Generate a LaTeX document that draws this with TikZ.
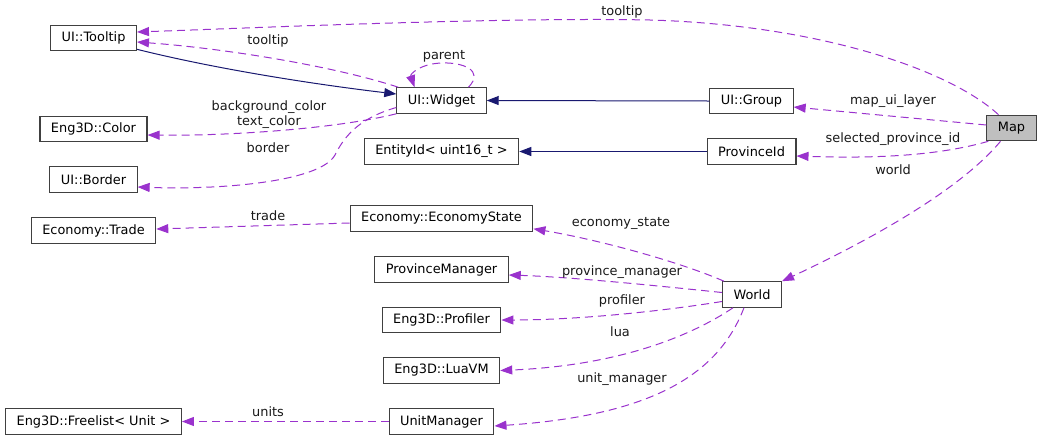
\documentclass[tikz,border=0pt]{standalone}
\usepackage{fontspec}
\setmainfont{DejaVu Sans}
\usepackage{tikz}
\usetikzlibrary{positioning,arrows.meta,calc}
\definecolor{edgeBox}{HTML}{404040}
\definecolor{usage}{HTML}{9A32CD}
\definecolor{derive}{HTML}{191970}
\definecolor{current}{HTML}{BFBFBF}
\tikzset{
  cls/.style={rectangle, draw=edgeBox, line width=1.1pt, fill=white, inner xsep=11pt,
              inner ysep=2pt, minimum height=25.5pt, font=\fontsize{12.9}{15}\selectfont},
  curcls/.style={cls, fill=current},
  lbl/.style={font=\fontsize{12.9}{15}\selectfont, align=center, inner sep=0pt, text=black!90},
  dep/.style={-{Triangle[length=12pt,width=9pt]}, line width=1pt, draw=usage,
              dash pattern=on 8pt off 5pt},
  inh/.style={-{Triangle[length=12pt,width=9pt]}, line width=1pt, draw=derive}
}
\begin{document}
\begin{tikzpicture}[x=1pt, y=-1pt]
\useasboundingbox (0,0) rectangle (1043,440);
% classes
\node[cls] (tooltip) at (93.5,38) {UI::Tooltip};
\node[cls] (color) at (93.5,129) {Eng3D::Color};
\node[cls] (border) at (93.5,179.5) {UI::Border};
\node[cls] (trade) at (93.5,230.5) {Economy::Trade};
\node[cls] (freelist) at (93.5,421.5) {Eng3D::Freelist< Unit >};
\node[cls] (widget) at (441.5,100.5) {UI::Widget};
\node[cls] (entityid) at (441.5,151.5) {EntityId< uint16\_t >};
\node[cls] (econstate) at (441.5,218.5) {Economy::EconomyState};
\node[cls] (provmgr) at (441.5,269.5) {ProvinceManager};
\node[cls] (profiler) at (441.5,320) {Eng3D::Profiler};
\node[cls] (luavm) at (441.5,370.5) {Eng3D::LuaVM};
\node[cls] (unitmgr) at (441.5,421.5) {UnitManager};
\node[cls] (group) at (751.5,101) {UI::Group};
\node[cls] (provid) at (751.5,151.5) {ProvinceId};
\node[cls] (world) at (752,294.5) {World};
\node[curcls] (map) at (1011.5,128) {Map};

% inheritance
\draw[inh] ([yshift=2pt]tooltip.south east) .. controls (220,70) and (320,85) .. ([yshift=6.5pt]widget.west);
\draw[inh] (group.west) -- (widget.east);
\draw[inh] (provid.west) -- (entityid.east);

% usage
\draw[dep] ([xshift=-13pt]map.north) .. controls (950,70) and (820,25) .. (650,20)
  .. controls (500,17) and (250,28) .. ([yshift=6pt]tooltip.east);
\draw[dep] ([xshift=2pt]widget.north west) .. controls (330,65) and (220,48) .. ([yshift=-4pt]tooltip.east);
\draw[dep] ([xshift=27pt]widget.north) .. controls (485,70) and (462,62) .. (441,63)
  .. controls (420,64) and (410,74) .. ([xshift=-27pt]widget.north);
\draw[dep] (widget.south west) .. controls (330,130) and (220,136) .. ([yshift=-6pt]color.east);
\draw[dep] ([yshift=-7pt]widget.west) .. controls (360,118) and (345,135) .. (335,155)
  .. controls (320,182) and (220,190) .. ([yshift=-7.5pt]border.east);
\draw[dep] ([yshift=3pt]map.west) -- ([yshift=-6pt]group.east);
\draw[dep] ([xshift=2pt]map.south west) .. controls (930,158) and (860,158) .. ([yshift=-4.5pt]provid.east);
\draw[dep] ([xshift=-11pt]map.south) .. controls (960,190) and (870,240) .. (world.north east);
\draw[dep] ([yshift=-4.5pt]econstate.west) -- ([yshift=1.5pt]trade.east);
\draw[dep] ([xshift=2pt]world.north west) .. controls (680,262) and (600,240) .. ([yshift=3pt]econstate.south east);
\draw[dep] ([yshift=2pt]world.west) .. controls (650,285) and (570,277) .. ([yshift=-5.5pt]provmgr.east);
\draw[dep] ([yshift=-7pt]world.west) .. controls (650,313) and (570,320) .. (profiler.east);
\draw[dep] ([xshift=11pt]world.south west) .. controls (700,330) and (630,365) .. (luavm.east);
\draw[dep] ([xshift=22pt]world.south west) .. controls (720,370) and (660,415) .. ([yshift=-4.5pt]unitmgr.east);
\draw[dep] (unitmgr.west) -- (freelist.east);

% labels
\node[lbl] (l-maptip) at (622,12) {tooltip};
\node[lbl] (l-widgettip) at (268,41) {tooltip};
\node[lbl] (l-parent) at (444,56) {parent};
\node[lbl] (l-color) at (269,115) {background\_color\\text\_color};
\node[lbl] (l-border) at (268,148) {border};
\node[lbl] (l-layer) at (893,101) {map\_ui\_layer};
\node[lbl] (l-selected) at (893,139) {selected\_province\_id};
\node[lbl] (l-world) at (893,170) {world};
\node[lbl] (l-trade) at (268,216) {trade};
\node[lbl] (l-econ) at (621,223) {economy\_state};
\node[lbl] (l-provmgr) at (622,272) {province\_manager};
\node[lbl] (l-profiler) at (622,301) {profiler};
\node[lbl] (l-lua) at (620,332) {lua};
\node[lbl] (l-units) at (622,379) {unit\_manager};
\node[lbl] (l-freelist) at (268,412) {units};
\end{tikzpicture}
\end{document}
